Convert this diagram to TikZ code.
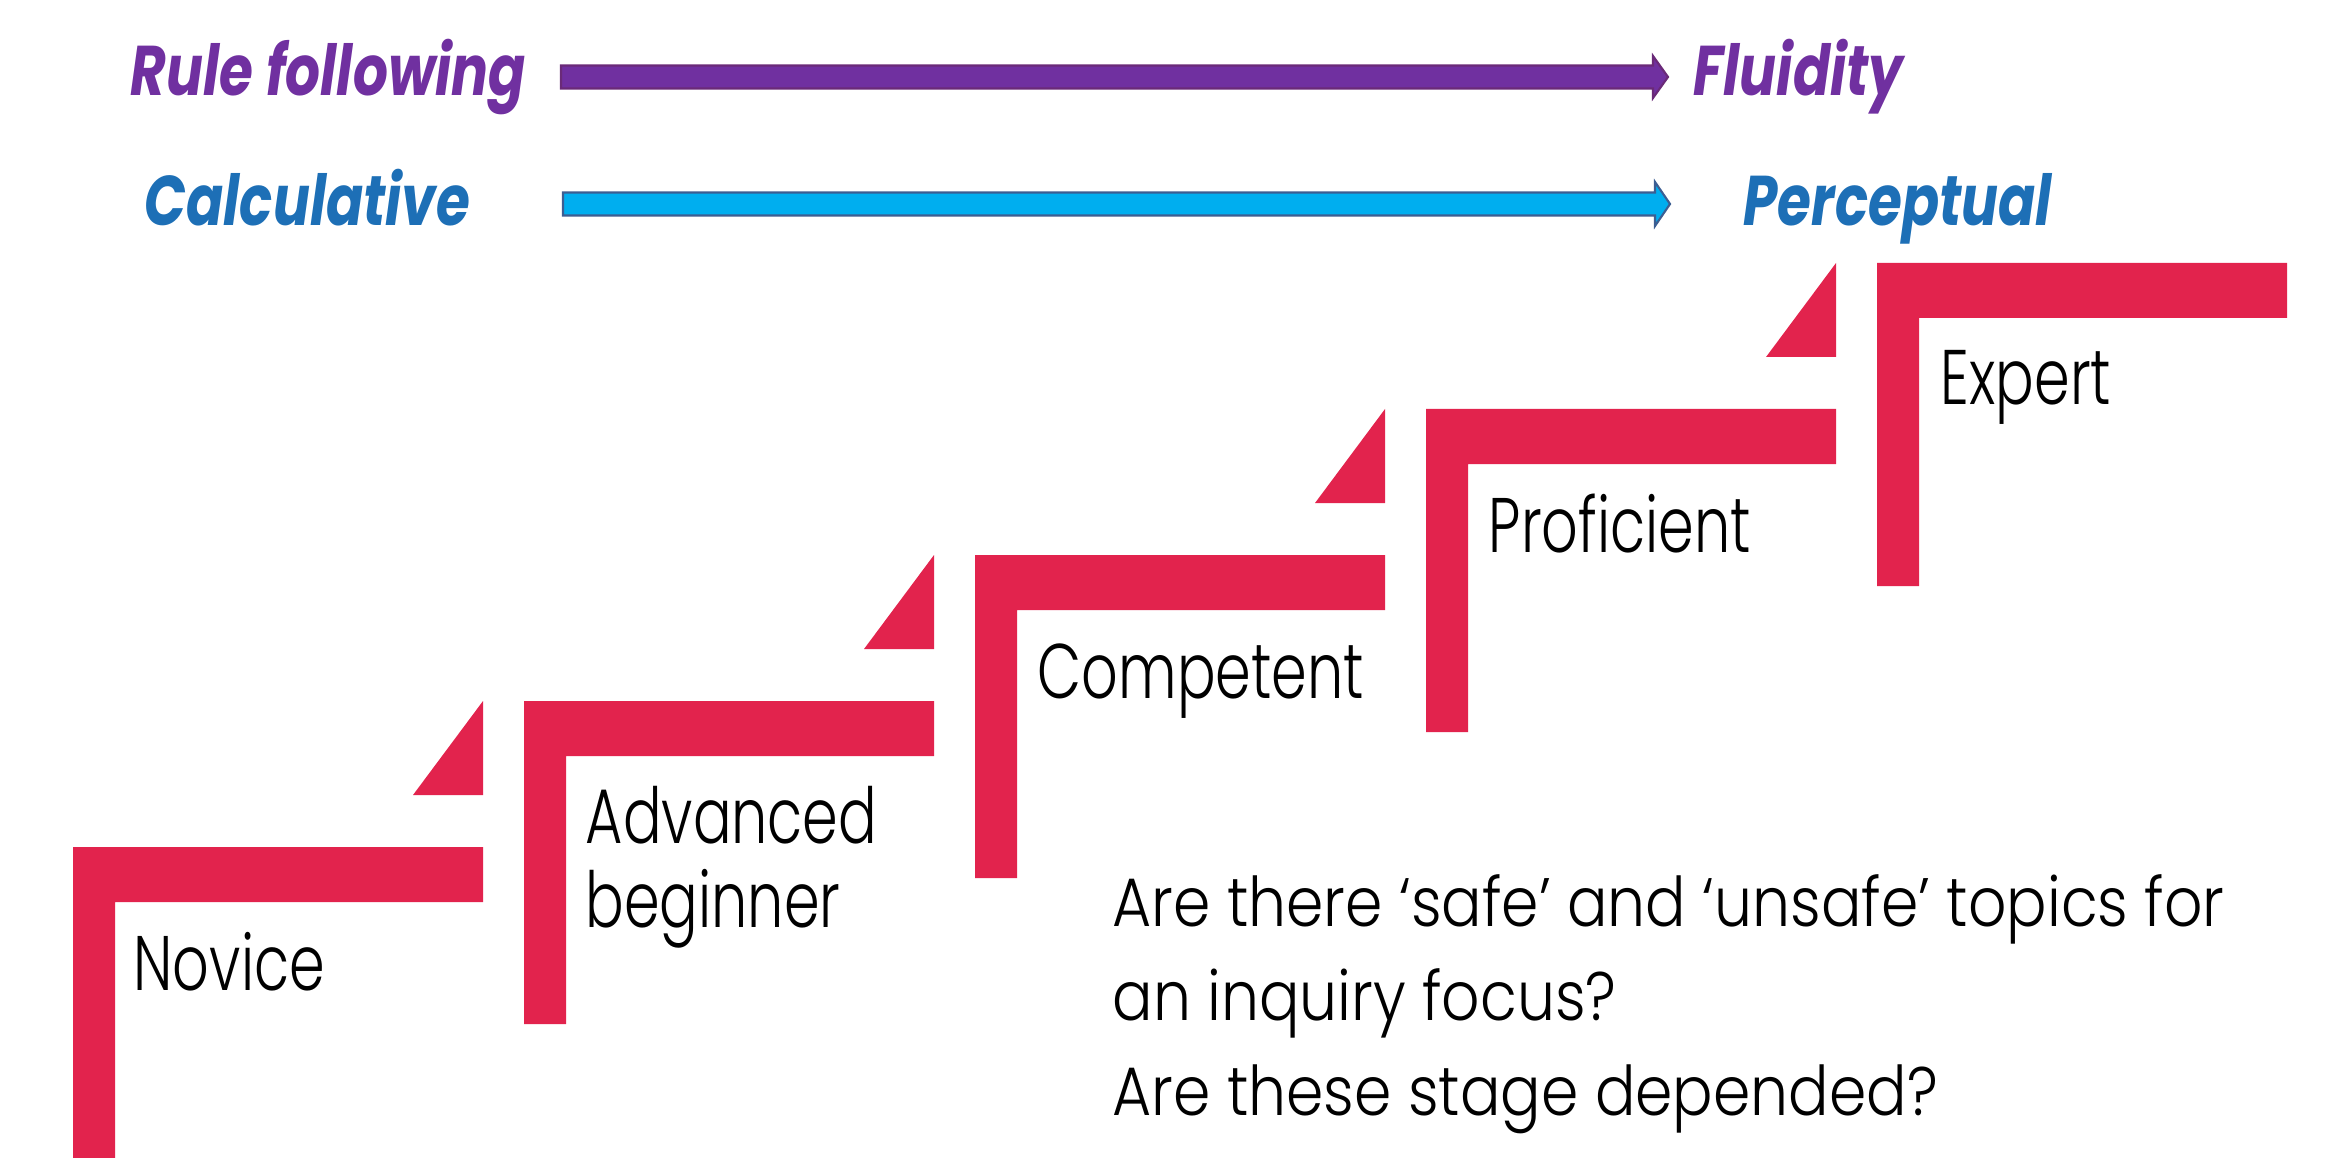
\documentclass[tikz,border=0pt]{standalone}
\usepackage{fontspec}
\setmainfont{Poppins}
\IfFontExistsTF{Poppins Light}
  {\newfontfamily\stagefont{Poppins Light}[FakeStretch=0.74]
   \newfontfamily\questionfont{Poppins Light}[FakeStretch=0.875]}
  {\newfontfamily\stagefont{Poppins}[FakeStretch=0.74]
   \newfontfamily\questionfont{Poppins}[FakeStretch=0.875]}
\newfontfamily\axisfont{Poppins}[FakeStretch=0.78]
\usetikzlibrary{calc}

\definecolor{stepred}{HTML}{E2234D}
\definecolor{rulepurple}{HTML}{7030A0}
\definecolor{ruleedge}{HTML}{6A2A78}
\definecolor{calcblue}{HTML}{00AEEF}
\definecolor{calcedge}{HTML}{3C5E92}
\definecolor{calctext}{HTML}{1D6FB6}

\tikzset{
  stepbar/.style={fill=stepred, draw=none},
  riser/.style={fill=stepred, draw=none},
  stagelabel/.style={anchor=base west, inner sep=0pt, text=black,
    font=\stagefont\fontsize{22}{23.8}\selectfont, align=left},
  axislabel/.style={anchor=base west, inner sep=0pt,
    font=\axisfont\fontsize{20}{24}\selectfont\bfseries\itshape},
  question/.style={anchor=base west, inner sep=0pt, text=black,
    font=\questionfont\fontsize{19.5}{26.8}\selectfont, align=left},
  blockarrow/.style={line width=0.6pt, line join=miter},
}

% one stair step: left edge, top edge, right end of the tread
\newcommand\stairstep[3]{%
  \fill[stepbar] (#1,\stepbottom{#2}) -- (#1,#2) -- (#3,#2) -- (#3,#2+55)
    -- (#1+42,#2+55) -- (#1+42,\stepbottom{#2}) -- cycle;}
\newcommand\stepbottom[1]{\fpeval{min(#1+323,1158)}}
% small wedge leading up to the next step
\newcommand\stairwedge[2]{%
  \fill[riser] (#1-70,#2-52) -- (#1,#2-52) -- (#1,#2-146) -- cycle;}

\begin{document}
\begin{tikzpicture}[x=0.01cm, y=-0.01cm]
  \useasboundingbox (0,0) rectangle (2346,1158);

  % ---- axis labels and arrows ----
  \node[axislabel, text=rulepurple] (rule) at (130,96) {Rule following};
  \node[axislabel, text=rulepurple] (fluid) at (1693,96) {Fluidity};
  \node[axislabel, text=calctext] (calc) at (144,226) {Calculative};
  \node[axislabel, text=calctext] (perc) at (1743,226) {Perceptual};

  \coordinate (rfA) at (561,77);
  \coordinate (rfB) at (1668,77);
  \coordinate (cpA) at (563,204);
  \coordinate (cpB) at (1670,204);

  \filldraw[blockarrow, fill=rulepurple, draw=ruleedge]
    ($(rfA)+(0,-11.5)$) -- ($(rfB)+(-15,-11.5)$) -- ($(rfB)+(-15,-21)$)
    -- (rfB) -- ($(rfB)+(-15,21)$) -- ($(rfB)+(-15,11.5)$)
    -- ($(rfA)+(0,11.5)$) -- cycle;
  \filldraw[blockarrow, fill=calcblue, draw=calcedge]
    ($(cpA)+(0,-11.5)$) -- ($(cpB)+(-15,-11.5)$) -- ($(cpB)+(-15,-22)$)
    -- (cpB) -- ($(cpB)+(-15,22)$) -- ($(cpB)+(-15,11.5)$)
    -- ($(cpA)+(0,11.5)$) -- cycle;

  % ---- the staircase ----
  \stairstep{73}{847}{483}
  \stairstep{524}{701}{934}
  \stairstep{975}{555}{1385}
  \stairstep{1426}{409}{1836}
  \stairstep{1877}{263}{2287}

  \stairwedge{483}{847}
  \stairwedge{934}{701}
  \stairwedge{1385}{555}
  \stairwedge{1836}{409}

  % ---- stage names ----
  \node[stagelabel] (novice) at (133,990) {Novice};
  \node[stagelabel] (advanced) at (585,927) {Advanced\\beginner};
  \node[stagelabel] (competent) at (1037,698) {Competent};
  \node[stagelabel] (proficient) at (1488,552) {Proficient};
  \node[stagelabel] (expert) at (1940,404) {Expert};

  % ---- question ----
  \node[question] (question) at (1112,1115)
    {Are there ‘safe’ and ‘unsafe’ topics for\\an inquiry focus?\\Are these stage depended?};
\end{tikzpicture}
\end{document}
